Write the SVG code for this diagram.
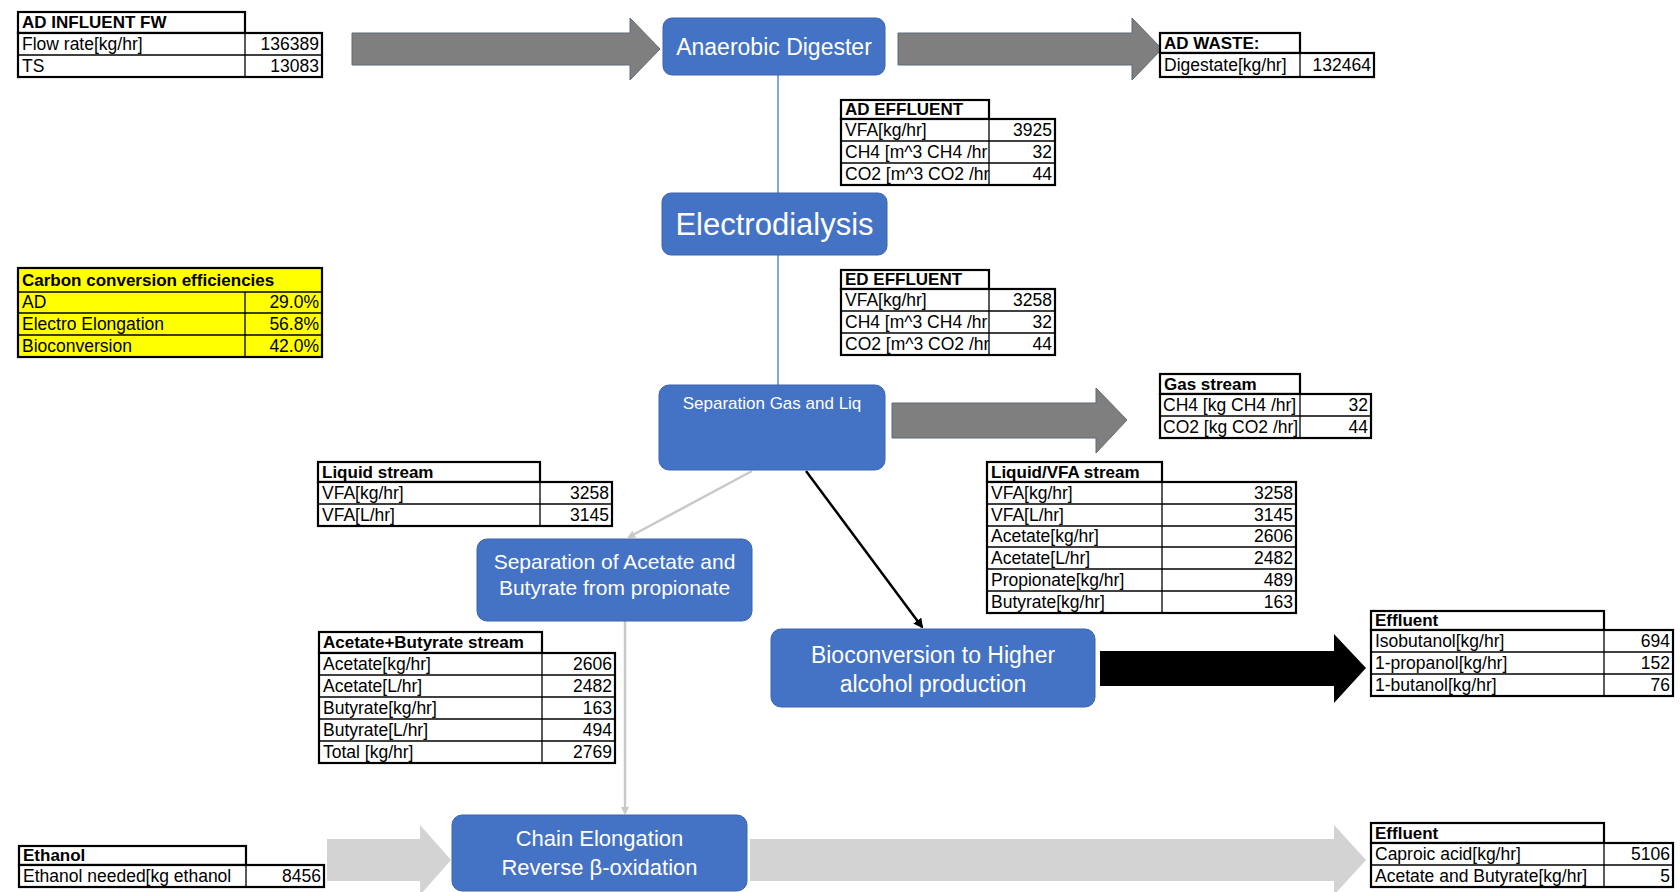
<svg xmlns="http://www.w3.org/2000/svg" width="1680" height="892" viewBox="0 0 1680 892">
<style>
.bg{fill:#fff}
.box{fill:#4472C4;stroke:#3b64ad;stroke-width:1}
.bt{font-family:"Liberation Sans",Arial,sans-serif;fill:#fff;text-anchor:middle}
.tb{fill:#fff;stroke:#000;stroke-width:2.2}
.ty{fill:#ffff00;stroke:#000;stroke-width:2.2}
.ln{stroke:#000;stroke-width:1.3;fill:none}
.t{font-family:"Liberation Sans",Arial,sans-serif;font-size:17.5px;fill:#000}
.h{font-family:"Liberation Sans",Arial,sans-serif;font-size:17px;font-weight:bold;fill:#000}
.v{text-anchor:end}
.ga{fill:#7f7f7f;stroke:#5e6a78;stroke-width:1}
.la{fill:#d3d3d3}
.ka{fill:#000}
.blue{stroke:#5b8bd3;stroke-width:1.5;fill:none}
.lg{stroke:#c9c9c9;stroke-width:2.5;fill:none}
.bk{stroke:#000;stroke-width:2.5;fill:none}
</style>
<defs>
<marker id="mg" markerWidth="8" markerHeight="8" refX="6" refY="4" orient="auto" markerUnits="userSpaceOnUse"><path d="M0,0 L8,4 L0,8 z" fill="#c9c9c9"/></marker>
<marker id="mk" markerWidth="10" markerHeight="10" refX="8" refY="5" orient="auto" markerUnits="userSpaceOnUse"><path d="M0,0 L10,5 L0,10 z" fill="#000"/></marker>
<clipPath id="c1"><rect x="841" y="100" width="148" height="260"/></clipPath>
<clipPath id="c2"><rect x="19" y="846" width="227" height="44"/></clipPath>
</defs>
<rect class="bg" x="0" y="0" width="1680" height="892"/>

<g id="connectors">
<line class="blue" x1="778" y1="75" x2="778" y2="193"/>
<line class="blue" x1="778" y1="255" x2="778" y2="385"/>
<line class="lg" x1="752" y1="471" x2="629" y2="537" marker-end="url(#mg)"/>
<line class="bk" x1="806" y1="471" x2="922" y2="627" marker-end="url(#mk)"/>
<line class="lg" x1="625" y1="621" x2="625" y2="813" marker-end="url(#mg)"/>
<polygon id="arrow-influent" class="ga" points="352,33 630,33 630,18 660,49 630,80 630,65 352,65"/>
<polygon id="arrow-waste" class="ga" points="898,33 1132,33 1132,18 1162,49 1132,80 1132,65 898,65"/>
<polygon id="arrow-gas" class="ga" points="892,403 1096,403 1096,388 1127,420 1096,453 1096,438 892,438"/>
<polygon id="arrow-alcohol" class="ka" points="1100,651 1334,651 1334,634 1366,668 1334,703 1334,686 1100,686"/>
<polygon id="arrow-ethanol" class="la" points="327,839 420,839 420,825 451,860 420,895 420,881 327,881"/>
<polygon id="arrow-effluent" class="la" points="750,839 1334,839 1334,825 1366,860 1334,895 1334,881 750,881"/>
</g>

<g id="node-ad">
<rect class="box" x="663" y="18" width="222" height="57" rx="9"/>
<text class="bt" x="774" y="55" font-size="23">Anaerobic Digester</text>
</g>
<g id="node-ed">
<rect class="box" x="662" y="193" width="225" height="62" rx="9"/>
<text class="bt" x="774.5" y="235" font-size="31">Electrodialysis</text>
</g>
<g id="node-sepgas">
<rect class="box" x="659" y="385" width="226" height="85" rx="10"/>
<text class="bt" x="772" y="409" font-size="17">Separation Gas and Liq</text>
</g>
<g id="node-sepacetate">
<rect class="box" x="477" y="539" width="275" height="82" rx="10"/>
<text class="bt" x="614.5" y="569" font-size="21">Separation of Acetate and</text>
<text class="bt" x="614.5" y="595" font-size="21">Butyrate from propionate</text>
</g>
<g id="node-bioconversion">
<rect class="box" x="771" y="629" width="324" height="78" rx="10"/>
<text class="bt" x="933" y="663" font-size="23">Bioconversion to Higher</text>
<text class="bt" x="933" y="692" font-size="23">alcohol production</text>
</g>
<g id="node-chain">
<rect class="box" x="452" y="815" width="295" height="76" rx="10"/>
<text class="bt" x="599.5" y="846" font-size="22">Chain Elongation</text>
<text class="bt" x="599.5" y="875" font-size="22">Reverse β-oxidation</text>
</g>

<g id="table-ad-influent">
<rect class="tb" x="18" y="12" width="227" height="21"/>
<rect class="tb" x="18" y="33" width="304" height="44"/>
<line class="ln" x1="18" y1="55" x2="322" y2="55"/>
<line class="ln" x1="245" y1="33" x2="245" y2="77"/>
<text class="h" x="22" y="28">AD INFLUENT FW</text>
<text class="t" x="22" y="50">Flow rate[kg/hr]</text>
<text class="t v" x="319" y="50">136389</text>
<text class="t" x="22" y="72">TS</text>
<text class="t v" x="319" y="72">13083</text>
</g>

<g id="table-ad-waste">
<rect class="tb" x="1160" y="33" width="140" height="20"/>
<rect class="tb" x="1160" y="53" width="214" height="24"/>
<line class="ln" x1="1300" y1="53" x2="1300" y2="77"/>
<text class="h" x="1164" y="49">AD WASTE:</text>
<text class="t" x="1164" y="71">Digestate[kg/hr]</text>
<text class="t v" x="1371" y="71">132464</text>
</g>

<g id="table-ad-effluent">
<rect class="tb" x="841" y="100" width="148" height="19"/>
<rect class="tb" x="841" y="119" width="214" height="66"/>
<line class="ln" x1="841" y1="141" x2="1055" y2="141"/>
<line class="ln" x1="841" y1="163" x2="1055" y2="163"/>
<text class="h" x="845" y="115">AD EFFLUENT</text>
<g clip-path="url(#c1)">
<text class="t" x="845" y="136">VFA[kg/hr]</text>
<text class="t" x="845" y="158">CH4 [m^3 CH4 /hr</text>
<text class="t" x="845" y="180">CO2 [m^3 CO2 /hr</text>
</g>
<line class="ln" x1="989" y1="119" x2="989" y2="185"/>
<text class="t v" x="1052" y="136">3925</text>
<text class="t v" x="1052" y="158">32</text>
<text class="t v" x="1052" y="180">44</text>
</g>

<g id="table-ed-effluent">
<rect class="tb" x="841" y="270" width="148" height="19"/>
<rect class="tb" x="841" y="289" width="214" height="66"/>
<line class="ln" x1="841" y1="311" x2="1055" y2="311"/>
<line class="ln" x1="841" y1="333" x2="1055" y2="333"/>
<text class="h" x="845" y="285">ED EFFLUENT</text>
<g clip-path="url(#c1)">
<text class="t" x="845" y="306">VFA[kg/hr]</text>
<text class="t" x="845" y="328">CH4 [m^3 CH4 /hr</text>
<text class="t" x="845" y="350">CO2 [m^3 CO2 /hr</text>
</g>
<line class="ln" x1="989" y1="289" x2="989" y2="355"/>
<text class="t v" x="1052" y="306">3258</text>
<text class="t v" x="1052" y="328">32</text>
<text class="t v" x="1052" y="350">44</text>
</g>

<g id="table-carbon">
<rect class="ty" x="18" y="268" width="304" height="89"/>
<line class="ln" x1="18" y1="292" x2="322" y2="292"/>
<line class="ln" x1="18" y1="313" x2="322" y2="313"/>
<line class="ln" x1="18" y1="335" x2="322" y2="335"/>
<line class="ln" x1="245" y1="292" x2="245" y2="357"/>
<text class="h" x="22" y="286">Carbon conversion efficiencies</text>
<text class="t" x="22" y="308">AD</text>
<text class="t v" x="319" y="308">29.0%</text>
<text class="t" x="22" y="330">Electro Elongation</text>
<text class="t v" x="319" y="330">56.8%</text>
<text class="t" x="22" y="352">Bioconversion</text>
<text class="t v" x="319" y="352">42.0%</text>
</g>

<g id="table-gas">
<rect class="tb" x="1160" y="374" width="140" height="20"/>
<rect class="tb" x="1160" y="394" width="211" height="44"/>
<line class="ln" x1="1160" y1="416" x2="1371" y2="416"/>
<line class="ln" x1="1300" y1="394" x2="1300" y2="438"/>
<text class="h" x="1164" y="390">Gas stream</text>
<text class="t" x="1163" y="411" font-size="17">CH4 [kg CH4 /hr]</text>
<text class="t v" x="1368" y="411">32</text>
<text class="t" x="1163" y="433" font-size="17">CO2 [kg CO2 /hr]</text>
<text class="t v" x="1368" y="433">44</text>
</g>

<g id="table-liquid">
<rect class="tb" x="318" y="462" width="222" height="20"/>
<rect class="tb" x="318" y="482" width="294" height="44"/>
<line class="ln" x1="318" y1="504" x2="612" y2="504"/>
<line class="ln" x1="540" y1="482" x2="540" y2="526"/>
<text class="h" x="322" y="478">Liquid stream</text>
<text class="t" x="322" y="499">VFA[kg/hr]</text>
<text class="t v" x="609" y="499">3258</text>
<text class="t" x="322" y="521">VFA[L/hr]</text>
<text class="t v" x="609" y="521">3145</text>
</g>

<g id="table-liquid-vfa">
<rect class="tb" x="987" y="462" width="175" height="20"/>
<rect class="tb" x="987" y="482" width="309" height="131"/>
<line class="ln" x1="987" y1="504" x2="1296" y2="504"/>
<line class="ln" x1="987" y1="526" x2="1296" y2="526"/>
<line class="ln" x1="987" y1="547" x2="1296" y2="547"/>
<line class="ln" x1="987" y1="569" x2="1296" y2="569"/>
<line class="ln" x1="987" y1="591" x2="1296" y2="591"/>
<line class="ln" x1="1162" y1="482" x2="1162" y2="613"/>
<text class="h" x="991" y="478">Liquid/VFA stream</text>
<text class="t" x="991" y="499">VFA[kg/hr]</text>
<text class="t v" x="1293" y="499">3258</text>
<text class="t" x="991" y="521">VFA[L/hr]</text>
<text class="t v" x="1293" y="521">3145</text>
<text class="t" x="991" y="542">Acetate[kg/hr]</text>
<text class="t v" x="1293" y="542">2606</text>
<text class="t" x="991" y="564">Acetate[L/hr]</text>
<text class="t v" x="1293" y="564">2482</text>
<text class="t" x="991" y="586">Propionate[kg/hr]</text>
<text class="t v" x="1293" y="586">489</text>
<text class="t" x="991" y="608">Butyrate[kg/hr]</text>
<text class="t v" x="1293" y="608">163</text>
</g>

<g id="table-acetate-butyrate">
<rect class="tb" x="319" y="632" width="223" height="21"/>
<rect class="tb" x="319" y="653" width="296" height="110"/>
<line class="ln" x1="319" y1="675" x2="615" y2="675"/>
<line class="ln" x1="319" y1="697" x2="615" y2="697"/>
<line class="ln" x1="319" y1="719" x2="615" y2="719"/>
<line class="ln" x1="319" y1="741" x2="615" y2="741"/>
<line class="ln" x1="542" y1="653" x2="542" y2="763"/>
<text class="h" x="323" y="648">Acetate+Butyrate stream</text>
<text class="t" x="323" y="670">Acetate[kg/hr]</text>
<text class="t v" x="612" y="670">2606</text>
<text class="t" x="323" y="692">Acetate[L/hr]</text>
<text class="t v" x="612" y="692">2482</text>
<text class="t" x="323" y="714">Butyrate[kg/hr]</text>
<text class="t v" x="612" y="714">163</text>
<text class="t" x="323" y="736">Butyrate[L/hr]</text>
<text class="t v" x="612" y="736">494</text>
<text class="t" x="323" y="758">Total [kg/hr]</text>
<text class="t v" x="612" y="758">2769</text>
</g>

<g id="table-effluent-alcohol">
<rect class="tb" x="1371" y="611" width="233" height="19"/>
<rect class="tb" x="1371" y="630" width="302" height="66"/>
<line class="ln" x1="1371" y1="652" x2="1673" y2="652"/>
<line class="ln" x1="1371" y1="674" x2="1673" y2="674"/>
<line class="ln" x1="1604" y1="630" x2="1604" y2="696"/>
<text class="h" x="1375" y="626">Effluent</text>
<text class="t" x="1375" y="647">Isobutanol[kg/hr]</text>
<text class="t v" x="1670" y="647">694</text>
<text class="t" x="1375" y="669">1-propanol[kg/hr]</text>
<text class="t v" x="1670" y="669">152</text>
<text class="t" x="1375" y="691">1-butanol[kg/hr]</text>
<text class="t v" x="1670" y="691">76</text>
</g>

<g id="table-ethanol">
<rect class="tb" x="19" y="846" width="227" height="19"/>
<rect class="tb" x="19" y="865" width="305" height="22"/>
<text class="h" x="23" y="861">Ethanol</text>
<g clip-path="url(#c2)">
<text class="t" x="23" y="882">Ethanol needed[kg ethanol</text>
</g>
<line class="ln" x1="246" y1="865" x2="246" y2="887"/>
<text class="t v" x="321" y="882">8456</text>
</g>

<g id="table-effluent-caproic">
<rect class="tb" x="1371" y="823" width="233" height="20"/>
<rect class="tb" x="1371" y="843" width="302" height="44"/>
<line class="ln" x1="1371" y1="865" x2="1673" y2="865"/>
<line class="ln" x1="1604" y1="843" x2="1604" y2="887"/>
<text class="h" x="1375" y="839">Effluent</text>
<text class="t" x="1375" y="860">Caproic acid[kg/hr]</text>
<text class="t v" x="1670" y="860">5106</text>
<text class="t" x="1375" y="882">Acetate and Butyrate[kg/hr]</text>
<text class="t v" x="1670" y="882">5</text>
</g>
</svg>
